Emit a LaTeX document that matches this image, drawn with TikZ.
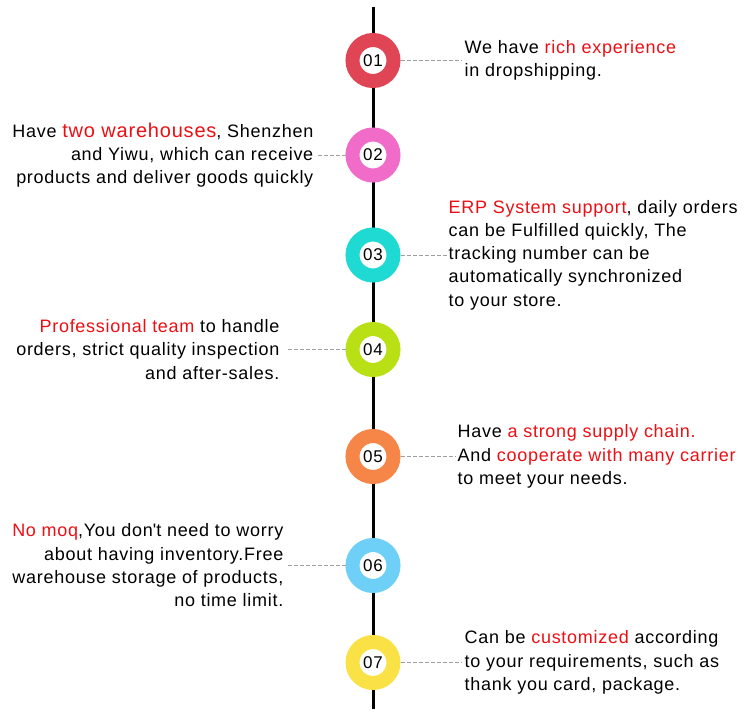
\documentclass[tikz,border=0pt]{standalone}
\usepackage{fontspec}
\setmainfont{Liberation Sans}[LetterSpace=4]
\usepackage{tikz}
\usetikzlibrary{positioning}
\definecolor{dotone}{RGB}{224,69,86}
\definecolor{dottwo}{RGB}{240,108,200}
\definecolor{dotthree}{RGB}{30,218,210}
\definecolor{dotfour}{RGB}{184,224,20}
\definecolor{dotfive}{RGB}{245,134,72}
\definecolor{dotsix}{RGB}{110,208,246}
\definecolor{dotseven}{RGB}{250,226,70}
\definecolor{hlred}{RGB}{235,15,20}
\newcommand{\hl}[1]{\textcolor{hlred}{#1}}
\begin{document}
\begin{tikzpicture}[x=1pt,y=-1pt,
    font=\fontsize{18}{23.3}\selectfont,
    stepdot/.style={circle, draw=#1, line width=14pt, fill=white,
      minimum size=41pt, inner sep=0pt, font=\fontsize{17}{20}\selectfont},
    note/.style={inner sep=0pt},
    link/.style={draw=gray!75, line width=0.8pt, dash pattern=on 4pt off 2pt}]
  \useasboundingbox (0,0) rectangle (750,728);
  \coordinate (top) at (373,7);
  \coordinate (bot) at (373,709);
  \draw[line width=3pt] (top) -- (bot);

  \node[stepdot=dotone]   (c1) at (373,60.5) {01};
  \node[stepdot=dottwo]   (c2) at (373,155)  {02};
  \node[stepdot=dotthree] (c3) at (373,255)  {03};
  \node[stepdot=dotfour]  (c4) at (373,349.5) {04};
  \node[stepdot=dotfive]  (c5) at (373,456.5) {05};
  \node[stepdot=dotsix]   (c6) at (373,565.5) {06};
  \node[stepdot=dotseven] (c7) at (373,662.5) {07};

  \node[note, align=left, right=64pt of c1] (t1)
    {We have \hl{rich experience}\\in dropshipping.};
  \node[note, align=right, left=32pt of c2] (t2)
    {Have \hl{\fontsize{20}{23.3}\selectfont two warehouses}, Shenzhen\\and Yiwu, which can receive\\products and deliver goods quickly};
  \node[note, align=left, right=48pt of c3] (t3)
    {\hl{ERP System support}, daily orders\\can be Fulfilled quickly, The\\tracking number can be\\automatically synchronized\\to your store.};
  \node[note, align=right, left=66pt of c4] (t4)
    {\hl{Professional team} to handle\\orders, strict quality inspection\\and after-sales.};
  \node[note, align=left, right=57pt of c5] (t5)
    {Have \hl{a strong supply chain.}\\And \hl{cooperate with many carrier}\\to meet your needs.};
  \node[note, align=right, left=62pt of c6] (t6)
    {\hl{No moq},You don\textquotesingle t need to worry\\about having inventory.Free\\warehouse storage of products,\\no time limit.};
  \node[note, align=left, right=64pt of c7] (t7)
    {Can be \hl{customized} according\\to your requirements, such as\\thank you card, package.};

  \draw[link, shorten >=3pt] (c1) -- (t1);
  \draw[link, shorten >=4pt] (c2) -- (t2);
  \draw[link, shorten >=2pt] (c3) -- (t3);
  \draw[link, shorten >=7pt] (c4) -- (t4);
  \draw[link, shorten >=2pt] (c5) -- (t5);
  \draw[link, shorten >=3pt] (c6) -- (t6);
  \draw[link, shorten >=3pt] (c7) -- (t7);
\end{tikzpicture}
\end{document}
